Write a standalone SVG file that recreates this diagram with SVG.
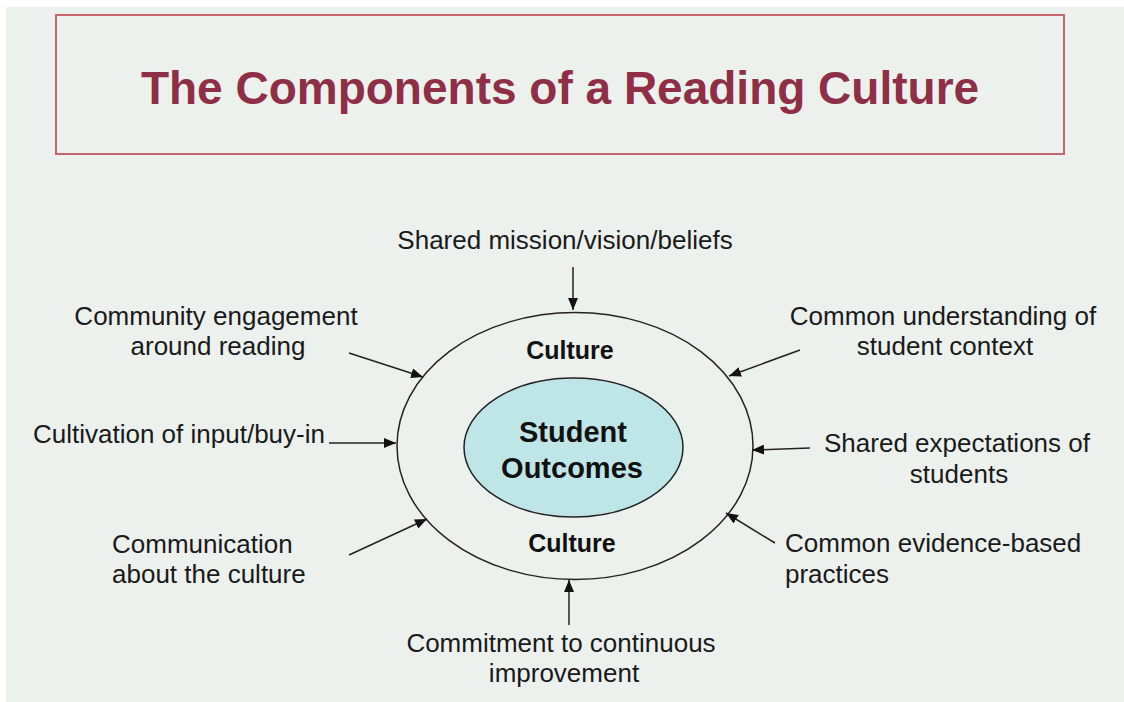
<svg xmlns="http://www.w3.org/2000/svg" width="1124" height="702" viewBox="0 0 1124 702">
<defs>
<style>
.lbl{font-family:"Liberation Sans",Arial,sans-serif;font-size:26px;fill:#1a1a1a}
.c{text-anchor:middle}
.s{text-anchor:start}
.bold{font-family:"Liberation Sans",Arial,sans-serif;font-weight:bold;fill:#111;text-anchor:middle}
.conn{stroke:#222;stroke-width:1.5;fill:none;marker-end:url(#ah)}
</style>
<marker id="ah" markerUnits="userSpaceOnUse" markerWidth="12" markerHeight="10" refX="12" refY="5" orient="auto">
<path d="M0,0 L12,5 L0,10 z" fill="#111"/>
</marker>
</defs>
<rect x="0" y="0" width="1124" height="702" fill="#ffffff"/>
<rect x="6" y="7" width="1118" height="695" fill="#EDF1EE"/>
<g id="title">
<rect x="56" y="15" width="1008" height="139" fill="none" stroke="#C8646C" stroke-width="2"/>
<text x="560" y="104" font-family="'Liberation Sans',Arial,sans-serif" font-weight="bold" font-size="46" fill="#8E2F45" text-anchor="middle">The Components of a Reading Culture</text>
</g>
<g id="culture">
<ellipse cx="575" cy="446" rx="178" ry="133.5" fill="none" stroke="#222" stroke-width="1.5"/>
<text class="bold" x="570" y="359" font-size="25">Culture</text>
<text class="bold" x="572" y="552" font-size="25">Culture</text>
</g>
<g id="outcomes">
<ellipse cx="573.5" cy="447.5" rx="109.5" ry="69.5" fill="#BEE5E8" stroke="#222" stroke-width="1.5"/>
<text class="bold" x="573" y="442" font-size="29">Student</text>
<text class="bold" x="572" y="478" font-size="29">Outcomes</text>
</g>
<g id="n-mission"><text class="lbl c" x="565" y="249">Shared mission/vision/beliefs</text></g>
<g id="n-community"><text class="lbl c" x="216" y="325">Community engagement</text><text class="lbl c" x="218" y="355">around reading</text></g>
<g id="n-cultivation"><text class="lbl s" x="33" y="443">Cultivation of input/buy-in</text></g>
<g id="n-communication"><text class="lbl s" x="112" y="553">Communication</text><text class="lbl s" x="112" y="583">about the culture</text></g>
<g id="n-understanding"><text class="lbl c" x="943" y="325">Common understanding of</text><text class="lbl c" x="945" y="355">student context</text></g>
<g id="n-expectations"><text class="lbl c" x="957" y="452">Shared expectations of</text><text class="lbl c" x="959" y="483">students</text></g>
<g id="n-practices"><text class="lbl s" x="785" y="552">Common evidence-based</text><text class="lbl s" x="785" y="583">practices</text></g>
<g id="n-commitment"><text class="lbl c" x="561" y="652">Commitment to continuous</text><text class="lbl c" x="564" y="682">improvement</text></g>
<g id="connectors">
<line class="conn" x1="573" y1="267" x2="573" y2="310"/>
<line class="conn" x1="349" y1="353" x2="423" y2="377"/>
<line class="conn" x1="329" y1="443" x2="396" y2="443"/>
<line class="conn" x1="349" y1="555" x2="427" y2="519"/>
<line class="conn" x1="800" y1="350" x2="729" y2="376"/>
<line class="conn" x1="810" y1="448" x2="752" y2="450"/>
<line class="conn" x1="775" y1="543" x2="726" y2="513"/>
<line class="conn" x1="569" y1="625" x2="569" y2="580"/>
</g>
</svg>
